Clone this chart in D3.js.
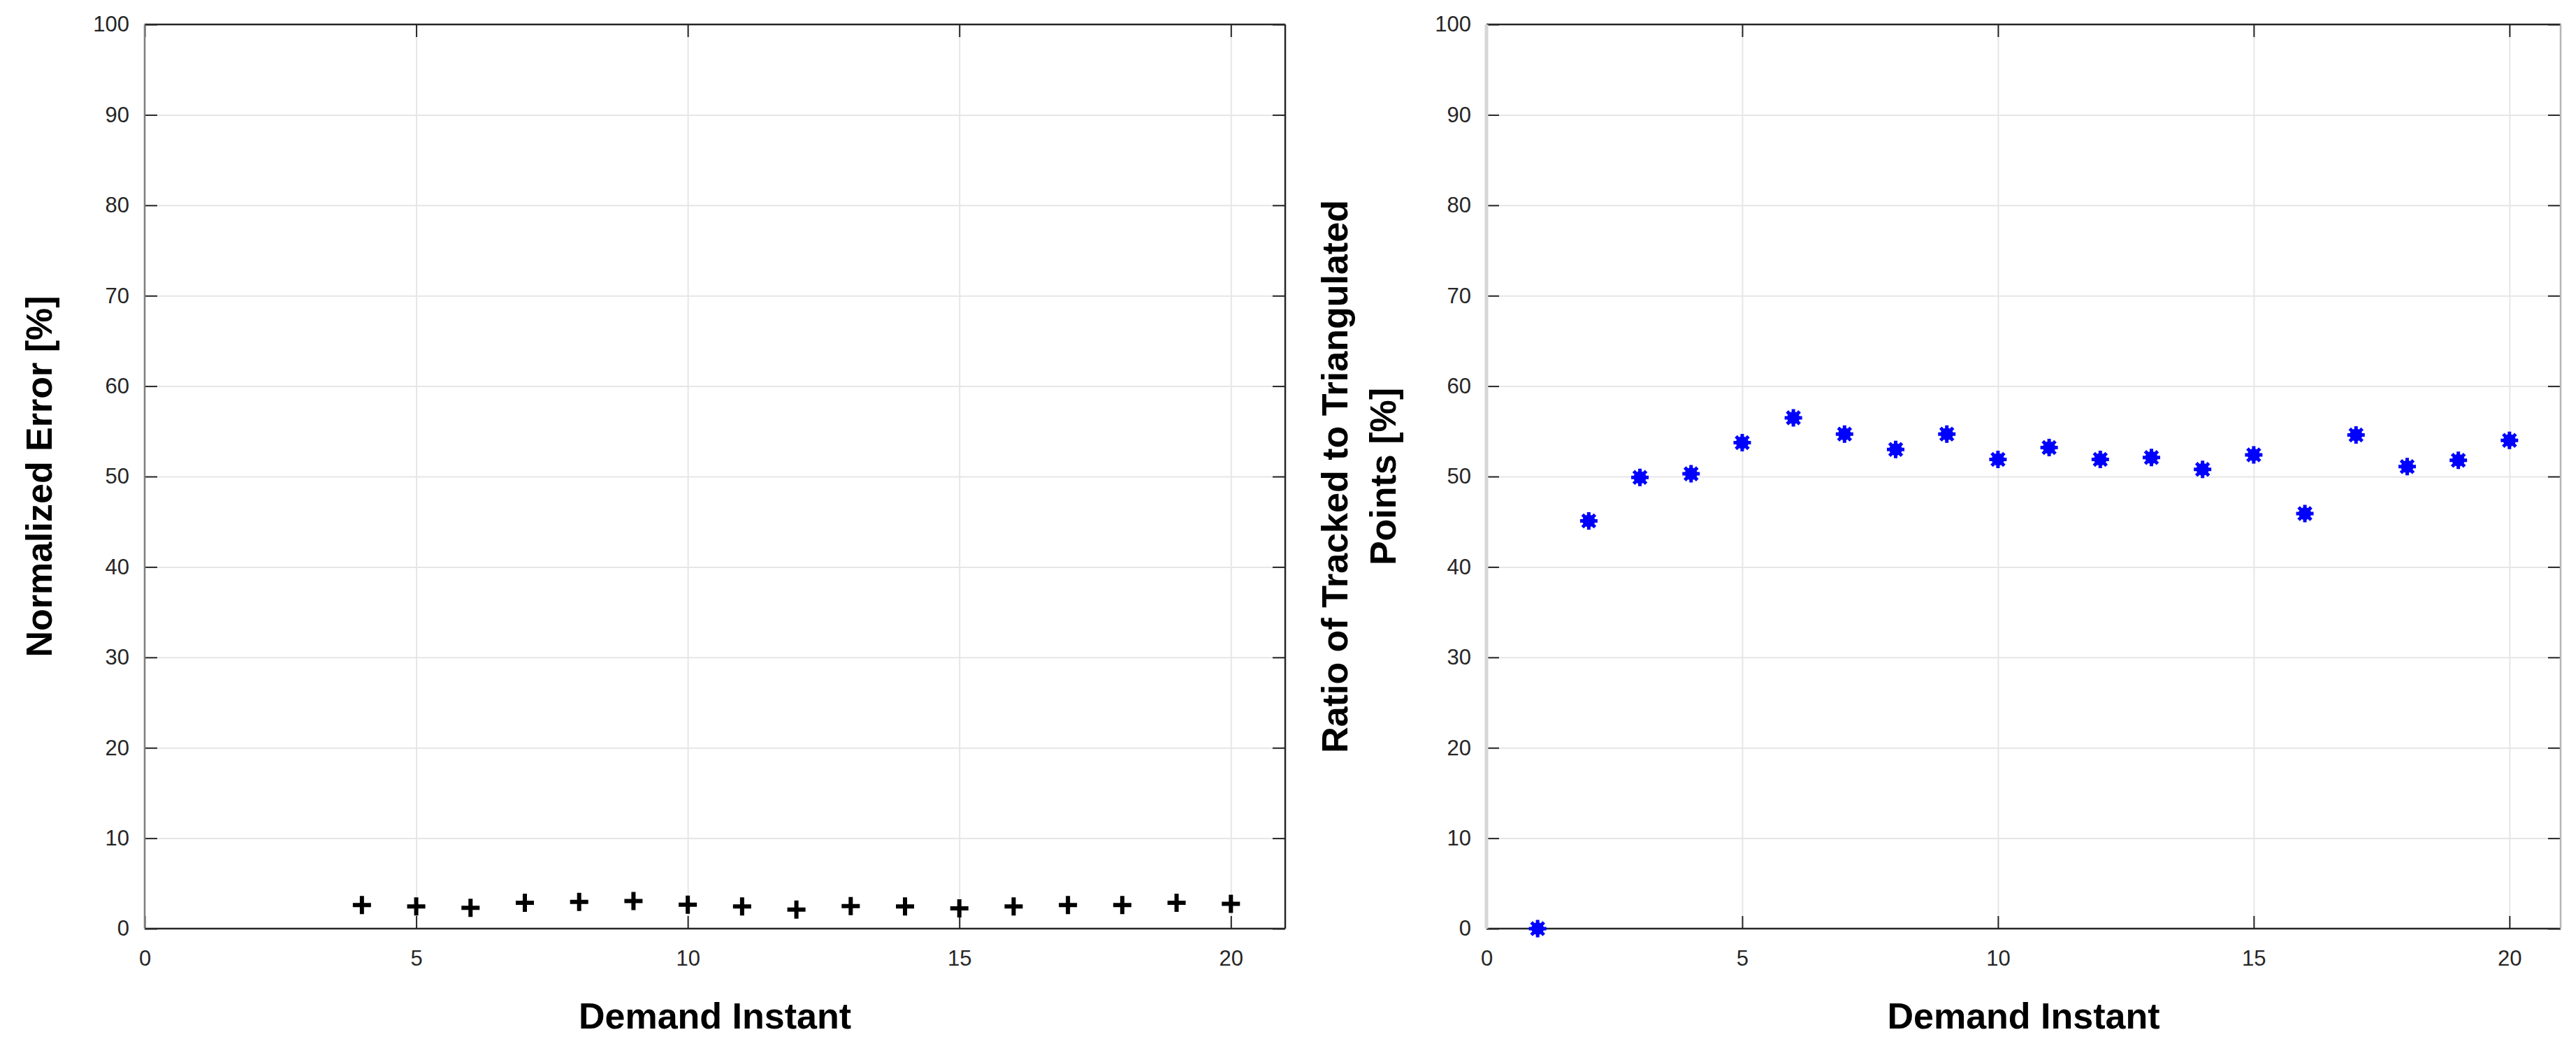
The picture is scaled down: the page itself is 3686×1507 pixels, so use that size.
<!DOCTYPE html>
<html>
<head>
<meta charset="utf-8">
<script src="https://cdnjs.cloudflare.com/ajax/libs/d3/7.8.5/d3.min.js"></script>
<style>
body { margin: 0; background: #fff; }
svg text { font-family: "Liberation Sans", Arial, sans-serif; }
.grid line { stroke: #e6e6e6; stroke-width: 2; }
.grid path { display: none; }
.ax path { display: none; }
.ax line { stroke: #262626; stroke-width: 2; }
.ax text { fill: #262626; font-size: 31px; }
.lbl { fill: #000; font-size: 52px; font-weight: bold; }
</style>
</head>
<body>
<svg id="chart" width="3686" height="1507"></svg>
<script>
// values
var errorInstants = [4, 5, 6, 7, 8, 9, 10, 11, 12, 13, 14, 15, 16, 17, 18, 19, 20];
var errorValues = [2.6, 2.45, 2.3, 2.85, 2.95, 3.05, 2.65, 2.45, 2.1, 2.5, 2.45, 2.25, 2.45, 2.6, 2.6, 2.85, 2.75];

var ratioInstants = [1, 2, 3, 4, 5, 6, 7, 8, 9, 10, 11, 12, 13, 14, 15, 16, 17, 18, 19, 20];
var ratioValues = [0, 45.1, 49.9, 50.3, 53.75, 56.5, 54.7, 53.0, 54.7, 51.9, 53.2, 51.9, 52.1, 50.8, 52.4, 45.9, 54.6, 51.1, 51.8, 54.0];

var xTicks = [0, 5, 10, 15, 20];
var yTicks = [0, 10, 20, 30, 40, 50, 60, 70, 80, 90, 100];

var svg = d3.select("#chart");

function drawPanel(cfg) {
	var x = d3.scaleLinear().domain([0, 21]).range([cfg.left, cfg.right]),
			y = d3.scaleLinear().domain([0, 100]).range([cfg.bottom, cfg.top]);
	var w = cfg.right - cfg.left,
			h = cfg.bottom - cfg.top;
	var g = svg.append("g");

	// grid
	g.append("g")
			.attr("class", "grid")
			.attr("transform", "translate(0," + cfg.bottom + ")")
			.call(d3.axisBottom(x).tickValues(xTicks).tickSize(-h).tickFormat(""));
	g.append("g")
			.attr("class", "grid")
			.attr("transform", "translate(" + cfg.left + ",0)")
			.call(d3.axisLeft(y).tickValues(yTicks.slice(1, -1)).tickSize(-w).tickFormat(""));

	// ticks, inside the box on all four sides
	g.append("g")
			.attr("class", "ax")
			.attr("transform", "translate(0," + cfg.bottom + ")")
			.call(d3.axisBottom(x).tickValues(xTicks).tickSizeInner(-18).tickSizeOuter(0).tickPadding(31));
	g.append("g")
			.attr("class", "ax")
			.attr("transform", "translate(0," + cfg.top + ")")
			.call(d3.axisTop(x).tickValues(xTicks).tickSizeInner(-18).tickSizeOuter(0).tickFormat(""));
	g.append("g")
			.attr("class", "ax")
			.attr("transform", "translate(" + cfg.left + ",0)")
			.call(d3.axisLeft(y).tickValues(yTicks).tickSizeInner(-18).tickSizeOuter(0).tickPadding(22));
	g.append("g")
			.attr("class", "ax")
			.attr("transform", "translate(" + cfg.right + ",0)")
			.call(d3.axisRight(y).tickValues(yTicks).tickSizeInner(-18).tickSizeOuter(0).tickFormat(""));

	// box
	g.append("line").attr("x1", cfg.left).attr("x2", cfg.right).attr("y1", cfg.top).attr("y2", cfg.top)
			.attr("stroke", "#262626").attr("stroke-width", 2.5);
	g.append("line").attr("x1", cfg.left).attr("x2", cfg.right).attr("y1", cfg.bottom).attr("y2", cfg.bottom)
			.attr("stroke", "#262626").attr("stroke-width", 2.5);
	g.append("line").attr("x1", cfg.left).attr("x2", cfg.left).attr("y1", cfg.top).attr("y2", cfg.bottom)
			.attr("stroke", cfg.leftColor).attr("stroke-width", cfg.leftWidth);
	g.append("line").attr("x1", cfg.right).attr("x2", cfg.right).attr("y1", cfg.top).attr("y2", cfg.bottom)
			.attr("stroke", cfg.rightColor).attr("stroke-width", 2.5);

	// x label
	g.append("text")
			.attr("class", "lbl")
			.attr("x", (cfg.left + cfg.right) / 2)
			.attr("y", 1472)
			.attr("text-anchor", "middle")
			.text("Demand Instant");

	// y label (one or two lines)
	var yl = g.append("text")
			.attr("class", "lbl")
			.attr("text-anchor", "middle")
			.attr("transform", "translate(" + cfg.ylabelX + "," + (cfg.top + cfg.bottom) / 2 + ") rotate(-90)");
	cfg.ylabel.forEach(function(line, i) {
		yl.append("tspan")
				.attr("x", 0)
				.attr("y", i * 69)
				.text(line);
	});

	return {x: x, y: y, g: g};
}

var left = drawPanel({
	left: 207, right: 1839, top: 35, bottom: 1329,
	leftColor: "#808080", leftWidth: 2.5, rightColor: "#262626",
	ylabelX: 74, ylabel: ["Normalized Error [%]"]
});

var right = drawPanel({
	left: 2127, right: 3664, top: 35, bottom: 1329,
	leftColor: "#d6d6d6", leftWidth: 5, rightColor: "#b5b5b5",
	ylabelX: 1928, ylabel: ["Ratio of Tracked to Triangulated", "Points [%]"]
});

// plus markers
left.g.selectAll(".plus")
	.data(errorValues)
	.enter().append("path")
		.attr("class", "plus")
		.attr("transform", function(d, i) { return "translate(" + left.x(errorInstants[i]) + "," + left.y(d) + ")"; })
		.attr("d", "M-13,0H13M0,-13V13")
		.attr("stroke", "#000")
		.attr("stroke-width", 6)
		.attr("fill", "none");

// asterisk markers
var stars = right.g.selectAll(".star")
	.data(ratioValues)
	.enter().append("g")
		.attr("class", "star")
		.attr("transform", function(d, i) { return "translate(" + right.x(ratioInstants[i]) + "," + right.y(d) + ")"; });
stars.append("circle")
		.attr("r", 9)
		.attr("fill", "#0000ff");
stars.append("path")
		.attr("d", "M-12.5,0H12.5M0,-12.5V12.5M-9,-9L9,9M-9,9L9,-9")
		.attr("stroke", "#0000ff")
		.attr("stroke-width", 5)
		.attr("fill", "none");
</script>
</body>
</html>
